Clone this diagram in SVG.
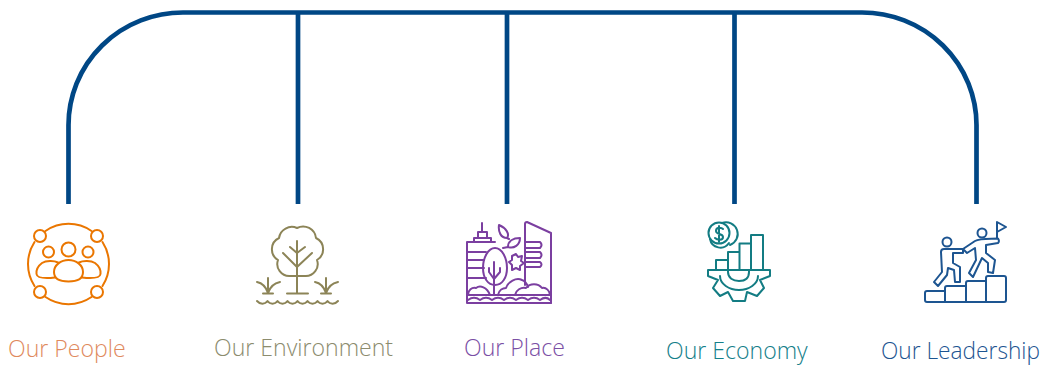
<svg xmlns="http://www.w3.org/2000/svg" width="1044" height="365" viewBox="0 0 1044 365">
<style>
.lbl{font-family:"Open Sans","Noto Sans","Liberation Sans",sans-serif;font-weight:300;font-size:23.1px}
.ic{fill:none;stroke-width:2;stroke-linecap:round;stroke-linejoin:round}
.conn{fill:none;stroke:#004785;stroke-width:4.700}
</style>
<rect width="1044" height="365" fill="#ffffff"/>
<g id="connectors">
<path class="conn" d="M68.500 204V125A114.500 112.500 0 0 1 183 12.500H862A114.500 112.500 0 0 1 976.500 125V204"/>
<path class="conn" d="M298 12.500V204M507 12.500V204M734.500 12.500V204"/>
</g>
<g id="our-people">
<g class="ic" stroke="#ea7600">
<path d="M45.500 231A40.500 40.500 0 0 1 91.500 231M102.500 242A40.500 40.500 0 0 1 102.500 286M91.500 297A40.500 40.500 0 0 1 45.500 297M34.500 286A40.500 40.500 0 0 1 34.500 242"/>
<circle cx="40" cy="236" r="6"/><circle cx="97" cy="236" r="6"/><circle cx="40" cy="292" r="6"/><circle cx="97" cy="292" r="6"/>
<circle cx="48.500" cy="252" r="5.500"/><circle cx="68.500" cy="249.500" r="7"/><circle cx="88" cy="252" r="5.500"/>
<path d="M54 272C54 279 60 281.500 68.500 281.500C77 281.500 83 279 83 272C83 265 76 260 68.500 260C61 260 54 265 54 272Z"/>
<path d="M58 262.500C54 260.500 46 260.500 42 263C38 266 36 270 36.500 274C37 278 46 278.500 55 277.500M79 262.500C83 260.500 91 260.500 95 263C99 266 101 270 100.500 274C100 278 91 278.500 82 277.500"/>
</g>
<text class="lbl" x="8" y="357" fill="#e08a5d">Our People</text>
</g>
<g id="our-environment">
<g class="ic" stroke="#8c8457">
<path d="M290 276A12 12 0 0 1 278 260A12.500 12.500 0 0 1 279 238A13 13 0 0 1 297 228A13 13 0 0 1 316 238A12.500 12.500 0 0 1 317 260A12 12 0 0 1 305 276Z"/>
<path d="M297 241V293M297 267L283 253M297 267L312 253M297 253L290 247M297 253L305 247M287 293.500H308"/>
<path d="M268 293V278M268 293C266 287 262 283 257 282M268 293C270 287 275 283 280 282M263 293.500H273"/>
<path d="M326 293V278M326 293C324 287 320 283 315 282M326 293C328 287 333 283 338 282M321 293.500H331"/>
<path d="M257 301C260 304.500 265 304.500 267.500 301C270 304.500 275 304.500 277.500 301C280 304.500 285 304.500 287.500 301C290 304.500 295 304.500 297.500 301C300 304.500 305 304.500 307.500 301C310 304.500 315 304.500 317.500 301C320 304.500 325 304.500 327.500 301C330 304.500 335 304.500 338 301"/>
</g>
<text class="lbl" x="214" y="356" fill="#8c8c6e">Our Environment</text>
</g>
<g id="our-place">
<g class="ic" stroke="#7b3fa0">
<path d="M467 295V242H495M474 242V238H491V242M478 238V232H487V238M482 232V223"/>
<path d="M467 252H486M467 260H484M467 268H484M467 278H486"/>
<path d="M495 248C488 248 483 258 483 268C483 278 488 285 495 285C502 285 507 278 507 268C507 258 502 248 495 248Z"/>
<path d="M494 295V262M494 279L489 272V268M494 279L500 272V268"/>
<path d="M525 285V224Q525 222 527 222L551 233V303M525 242H540Q543 245 540 248H525M525 252H540Q543 255 540 258H525M525 262H540Q543 264.500 540 267H525"/>
<path d="M467 295H551V303H467Z"/>
<path d="M468 300C472 297 476 297 480 300C484 297 488 297 492 300C496 297 500 297 504 300C508 297 512 297 516 300C520 297 524 297 528 300C532 297 536 297 540 300C544 297 547 297 550 300"/>
<path d="M468 295C468 290 472 287 476 288C480 285 487 287 490 295M498 295C499 290 503 288 506 288C508 282 516 277 522 280C525 281 527 284 528 287M515 295C516 290 521 287 526 288C530 283 538 283 542 288C546 287 550 291 550 295"/>
<path d="M499 225C498 232 501 238 507 238C510 234 506 228 499 225ZM507 238L509 239M520 238C513 238 508 241 508 247C514 249 520 245 520 238ZM508 247L503 248M512 256L516 254L518 257L522 256L521 261L524 263L520 266L520 270L516 268L512 270L512 265L509 262L512 260Z"/>
</g>
<text class="lbl" x="464" y="356" fill="#7b4fa5">Our Place</text>
</g>
<g id="our-economy">
<g class="ic" stroke="#137c83">
<circle cx="719" cy="233" r="10.500"/><path d="M722 223A11 11 0 1 1 730 245M710 239A10.500 10.500 0 0 0 729 243"/>
<path d="M723 229C721 227 716 227 716 231C716 235 723 233 723 237C723 241 717 240 715 238M719 226V242"/>
<path d="M716 270V260H728M728 270V252H739.500M739.500 270V243.500H751M751 270V235H763V270"/>
<path d="M708 270H770V276L760 280L764 288L757 296L747 292L745 301H733L728 292L720 296L713 288L718 280L708 276Z"/>
<path d="M720 276C720 284 729 290 739 290C749 290 758 284 758 276M728 270V272C728 278 733 281 739 281C745 281 749 278 749 272V270"/>
</g>
<text class="lbl" x="666" y="359" fill="#15808a">Our Economy</text>
</g>
<g id="our-leadership">
<g class="ic" stroke="#1d5591">
<circle cx="947" cy="242" r="4.500"/><circle cx="982" cy="233" r="4.500"/>
<path d="M997 238V222L1006 227L997 232"/>
<path d="M998 238.500C999 240 999 242 998 243L986 245V253L995 260L993 273L988 272V263L982 258L973 277L969 273L976 260L975 248L967 253L963 249L975 241C980 238 990 239 998 238.500Z"/>
<path d="M963 249H944C941 249 941 251 941 252L942 272L934 282L938 286L947 275L948 268L954 270L955 282H960V267L953 263V253H963Z"/>
<path d="M945 291H927Q925 291 925 293V300Q925 302 927 302H1004Q1006 302 1006 300V278Q1006 276 1004 276H988Q986 276 986 278V302M986 281H968Q966 281 966 283V302M966 286H947Q945 286 945 288V302"/>
</g>
<text class="lbl" x="881" y="359" fill="#1d5591" textLength="159" lengthAdjust="spacingAndGlyphs">Our Leadership</text>
</g>
</svg>
